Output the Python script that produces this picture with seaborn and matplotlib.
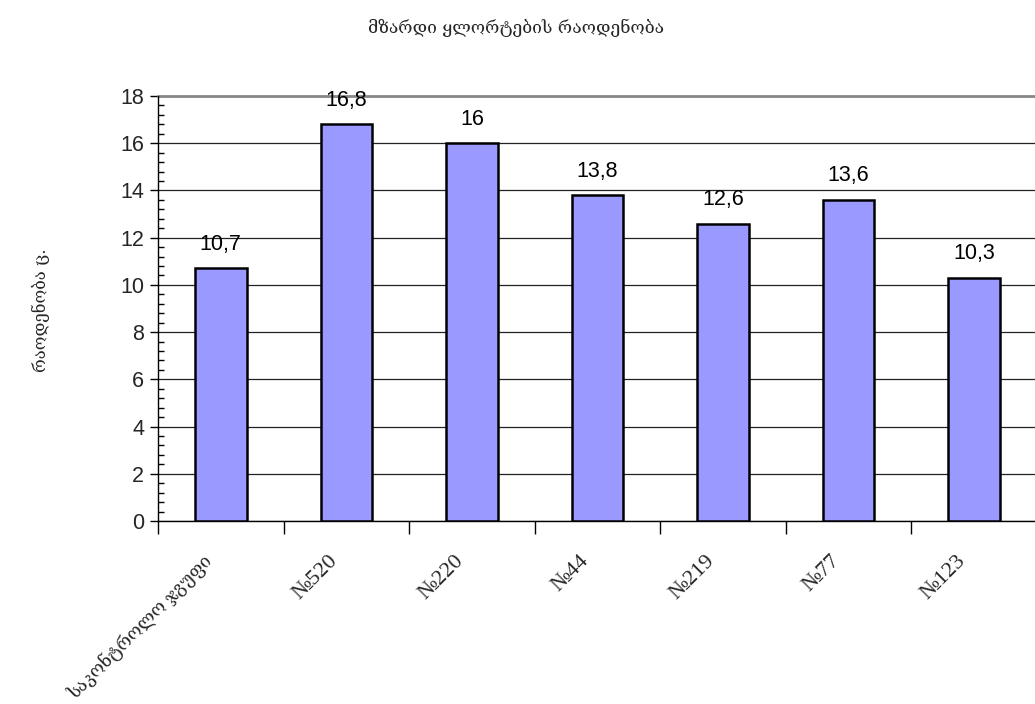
import matplotlib
matplotlib.use("Agg")
import matplotlib.pyplot as plt
from matplotlib.ticker import MultipleLocator, FixedLocator
from matplotlib.transforms import ScaledTranslation
import seaborn as sns
import pandas as pd

# Data: number of growing shoots per variant
categories = ["საკონტროლო ჯგუფი", "№520", "№220", "№44", "№219", "№77", "№123"]
values = [10.7, 16.8, 16.0, 13.8, 12.6, 13.6, 10.3]
value_labels = ["10,7", "16,8", "16", "13,8", "12,6", "13,6", "10,3"]
title = "მზარდი ყლორტების რაოდენობა"
ylabel = "რაოდენობა ც."

sns.set_theme(style="white")
plt.rcParams["font.family"] = ["Liberation Sans", "DejaVu Sans"]

df = pd.DataFrame({"variant": categories, "count": values})

fig = plt.figure(figsize=(10.35, 7.04), dpi=100)
ax = fig.add_axes([158 / 1035, (704 - 521) / 704, 879 / 1035, 425 / 704])

sns.barplot(data=df, x="variant", y="count", color="#9999FF", width=0.41,
            edgecolor="black", linewidth=1.8, saturation=1, ax=ax, zorder=3)

ax.set_xlim(-0.5, len(categories) - 0.5)
ax.set_ylim(0, 18)

# Horizontal gridlines
ax.yaxis.set_major_locator(MultipleLocator(2))
ax.yaxis.set_minor_locator(MultipleLocator(0.4))
ax.grid(axis="y", which="major", color="#222222", linewidth=0.9, zorder=0)
ax.grid(axis="x", visible=False)

for s in ["right", "top"]:
    ax.spines[s].set_visible(False)
ax.axhline(18, color="#888888", linewidth=2, zorder=1, clip_on=False)
for s in ["left", "bottom"]:
    ax.spines[s].set_color("black")
    ax.spines[s].set_linewidth(1.0)

ax.tick_params(axis="y", which="major", direction="out", length=6, width=1,
               color="black", labelsize=15.5, pad=4, left=True)
ax.tick_params(axis="y", which="minor", direction="in", length=4, width=1,
               color="black", left=True)

# Category labels centred on bars, tick marks on category boundaries
ax.xaxis.set_minor_locator(FixedLocator([i + 0.5 for i in range(-1, len(categories))]))
ax.tick_params(axis="x", which="major", length=0, pad=22)
ax.tick_params(axis="x", which="minor", direction="out", length=9, width=1,
               color="black", bottom=True)
ax.set_xticks(range(len(categories)))
ax.set_xticklabels(categories, rotation=45, ha="right", rotation_mode="anchor",
                   family=["Liberation Serif", "DejaVu Serif"], fontsize=16)
shift = ScaledTranslation(-18 / 100, 0, fig.dpi_scale_trans)
for lab in ax.get_xticklabels():
    lab.set_transform(lab.get_transform() + shift)
ax.get_xticklabels()[0].set_fontsize(12.8)

ax.set_xlabel("")
ax.set_ylabel("")

for i, (v, lab) in enumerate(zip(values, value_labels)):
    ax.annotate(lab, xy=(i, v), xytext=(0, 24), textcoords="offset pixels",
                ha="center", va="center", fontsize=15.5, color="black")

fig.text(516 / 1035, 1 - 28 / 704, title, ha="center", va="center",
         fontsize=12.5, family=["DejaVu Serif", "DejaVu Sans"])
fig.text(41 / 1035, 1 - 310 / 704, ylabel, ha="center", va="center",
         rotation=90, fontsize=12, family=["DejaVu Serif", "DejaVu Sans"])

fig.savefig("out.png", dpi=100)
